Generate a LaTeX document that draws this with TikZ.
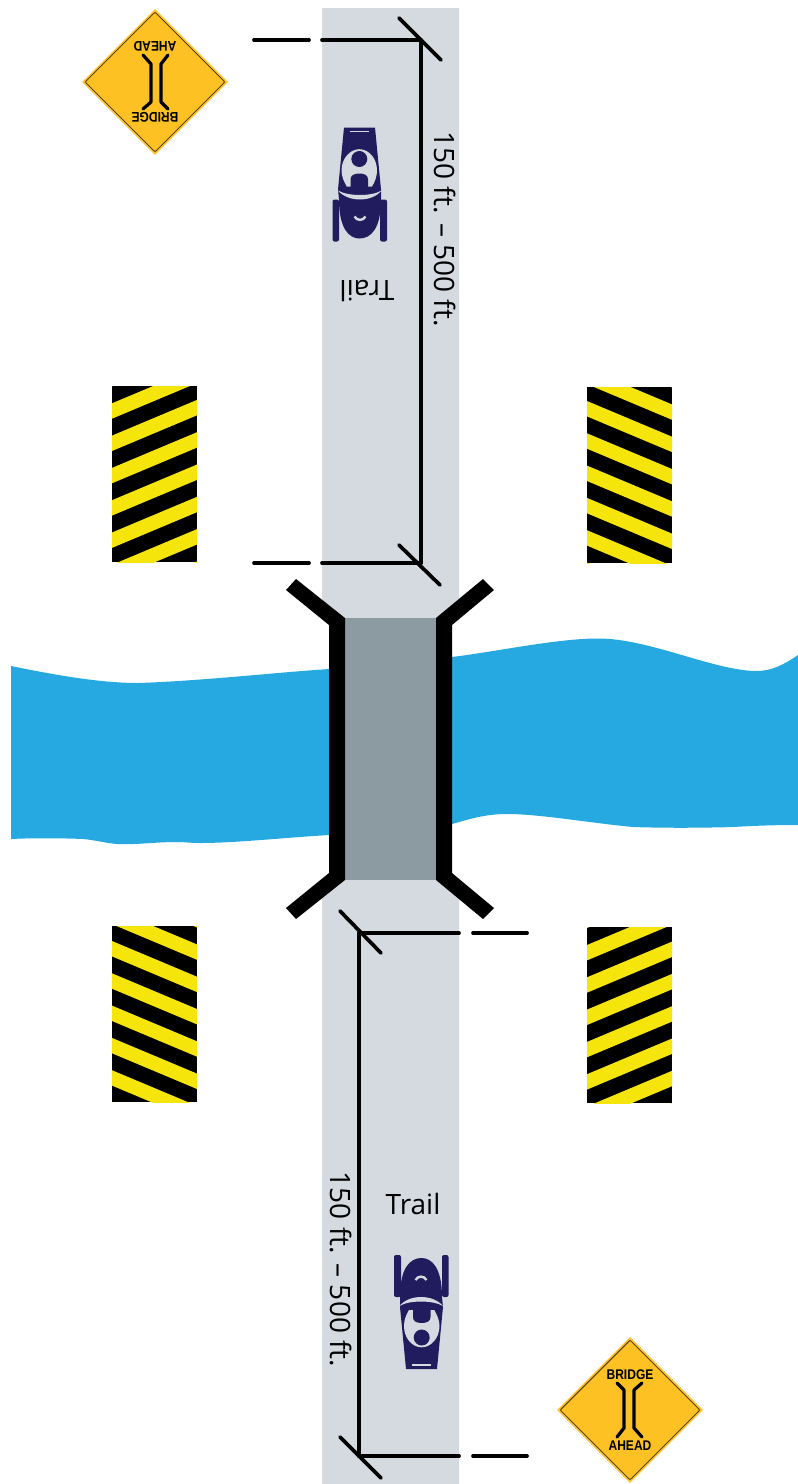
\documentclass[tikz,border=0pt]{standalone}
\usepackage{fontspec}
\setmainfont{Open Sans}
\newfontfamily\signfont{Liberation Sans}
\usetikzlibrary{shapes.geometric}
\definecolor{roadgrey}{HTML}{D5DAE0}
\definecolor{deckgrey}{HTML}{8C9AA1}
\definecolor{riverblue}{HTML}{26A9E0}
\definecolor{signgold}{HTML}{FDC124}
\definecolor{stripeyellow}{HTML}{F5E50A}
\definecolor{sledink}{HTML}{211C5E}
\tikzset{
  dimline/.style={line width=3.7pt, line cap=round},
  dimtext/.style={font=\fontsize{28}{30}\selectfont, inner sep=0pt},
  signtext/.style={font=\signfont\bfseries\fontsize{14}{14}\selectfont, inner sep=0pt, xscale=0.86},
  signbar/.style={line width=3.2pt, line cap=round, line join=round}
}
\newcommand{\bridgesign}[4]{%
  \begin{scope}[shift={(#2,#3)}, rotate=#4, transform shape]
    \node[diamond, fill=signgold, inner sep=0pt, minimum width=146pt, minimum height=146pt] (#1) at (0,0) {};
    \node[diamond, draw=black!75!signgold, line width=0.8pt, rounded corners=1pt, inner sep=0pt,
          minimum width=140pt, minimum height=140pt] (#1edge) at (0,0) {};
    \node[signtext] (#1top) at (0,-35) {BRIDGE};
    \node[signtext] (#1low) at (0,36) {AHEAD};
    \draw[signbar] (-13,-27) -- (-6,-20) -- (-6,18) -- (-13,27);
    \draw[signbar] (12,-27) -- (4,-20) -- (4,18) -- (12,27);
  \end{scope}}
\newcommand{\sled}[3]{%
  \begin{scope}[shift={(#1,#2)}, rotate=#3]
    \fill[sledink, rounded corners=2pt] (-27,-15) -- (-27,-57) -- (-20,-57) -- (-20,-15) -- cycle;
    \fill[sledink, rounded corners=2pt] (21,-15) -- (21,-57) -- (27.5,-57) -- (27.5,-15) -- cycle;
    \fill[sledink] (-21,-5) -- (-21,-15) .. controls (-21,-44) and (-11,-54) .. (0.5,-54)
      .. controls (11,-54) and (21,-44) .. (21,-15) -- (22,-5) -- (16,57) -- (-15,57) -- cycle;
    \fill[roadgrey] (-21.5,-6) .. controls (-12,-18) and (12,-18) .. (22,-6)
      .. controls (12,-12) and (-12,-12) .. cycle;
    \draw[roadgrey, line width=2.4pt] (-5.5,-32) .. controls (-3,-36.5) and (3,-36.5) .. (5.5,-32);
    \fill[roadgrey] (-12,-2) .. controls (-15,3) and (-17,8) .. (-17,14)
      .. controls (-17,26) and (-9,35.3) .. (0.7,35.3) .. controls (10,35.3) and (18.5,26) .. (18.5,14)
      .. controls (18.5,8) and (16,3) .. (13.3,-2) -- cycle;
    \fill[sledink] (-8,-3) -- (-8,5) .. controls (-8,9) and (-5,11) .. (0.7,11)
      .. controls (6,11) and (9.5,9) .. (9.5,5) -- (9.5,-3) -- cycle;
    \fill[sledink] (0.7,25.5) circle (8);
    \draw[roadgrey, line width=1.6pt] (-9,53) -- (10,53);
  \end{scope}}
\newcommand{\hazardboard}[4]{%
  \begin{scope}
    \clip (#1,#2) rectangle ++(85,176);
    \fill[black] (#1,#2) rectangle ++(85,176);
    \foreach \k in {-3,...,7}
      \fill[stripeyellow] (#1,#4+\k*32.3) -- ++(85,#3*35.7) -- ++(0,15.4) -- ++(-85,-#3*35.7) -- cycle;
  \end{scope}}
\begin{document}
\begin{tikzpicture}[x=1pt, y=-1pt]
  \useasboundingbox (0,0) rectangle (798,1484);
  \fill[riverblue] (11,666) .. controls (55,675) and (100,683) .. (138,683)
    .. controls (200,681) and (270,673) .. (329,669) -- (452,657)
    .. controls (500,651) and (560,638) .. (600,638.5) .. controls (650,639) and (715,671) .. (757,671)
    .. controls (772,671) and (785,664) .. (798,655) -- (798,825)
    .. controls (770,825) and (750,826) .. (733,827) .. controls (700,828) and (660,828) .. (633,827)
    .. controls (590,823) and (540,814) .. (507,814) .. controls (485,814) and (470,819) .. (452,824)
    -- (329,835) .. controls (280,838) and (235,843) .. (200,843)
    .. controls (190,843) and (185,842) .. (177,842) .. controls (155,842) and (135,845) .. (117,844)
    .. controls (105,843) and (95,840) .. (83,839) .. controls (60,838) and (30,838) .. (11,839) -- cycle;
  \fill[roadgrey] (322,8) -- (459,8) -- (459,600) -- (436,618) -- (345,618) -- (322,600) -- cycle;
  \fill[roadgrey] (345,880) -- (436,880) -- (459,898) -- (459,1484) -- (322,1484) -- (322,898) -- cycle;
  \fill[deckgrey] (345,618) rectangle (436,880);
  \fill[black] (345,618) -- (296,579) -- (286,590) -- (329,625) -- (329,873) -- (286,908) -- (296,919) -- (345,880) -- cycle;
  \fill[black] (436,618) -- (483,579) -- (494,590) -- (452,625) -- (452,873) -- (494,908) -- (483,919) -- (436,880) -- cycle;

  \hazardboard{112}{386}{-1}{403.3}
  \hazardboard{587}{387}{1}{401}
  \hazardboard{112}{926}{1}{941}
  \hazardboard{587}{927}{-1}{945}

  \coordinate (ntop) at (421,40);
  \coordinate (nlow) at (421,563);
  \coordinate (sups) at (359,933);
  \coordinate (sdwn) at (359,1456);
  \draw[dimline] (ntop) -- (nlow);
  \draw[dimline] (sups) -- (sdwn);
  \draw[dimline] (ntop) -- (322,40);
  \draw[dimline] (nlow) -- (322,563);
  \draw[dimline] (sups) -- (459,933);
  \draw[dimline] (sdwn) -- (459,1456);
  \draw[dimline] (309,40) -- (254,40);
  \draw[dimline] (309,563) -- (254,563);
  \draw[dimline] (473,933) -- (527,933);
  \draw[dimline] (473,1456) -- (527,1456);
  \draw[dimline] (399,18) -- (441,60);
  \draw[dimline] (399,545) -- (440,585);
  \draw[dimline] (340,911) -- (381,953);
  \draw[dimline] (340,1437) -- (381,1478);

  \node[dimtext, rotate=-90] (spanN) at (445,229) {150 ft. – 500 ft.};
  \node[dimtext, rotate=-90] (spanS) at (341,1269.5) {150 ft. – 500 ft.};
  \node[dimtext, rotate=180] (trailN) at (367,291) {Trail};
  \node[dimtext] (trailS) at (413,1204) {Trail};

  \sled{360}{184.5}{180}
  \sled{421}{1312}{0}
  \bridgesign{signN}{155}{82}{180}
  \bridgesign{signS}{630}{1410}{0}
\end{tikzpicture}
\end{document}
